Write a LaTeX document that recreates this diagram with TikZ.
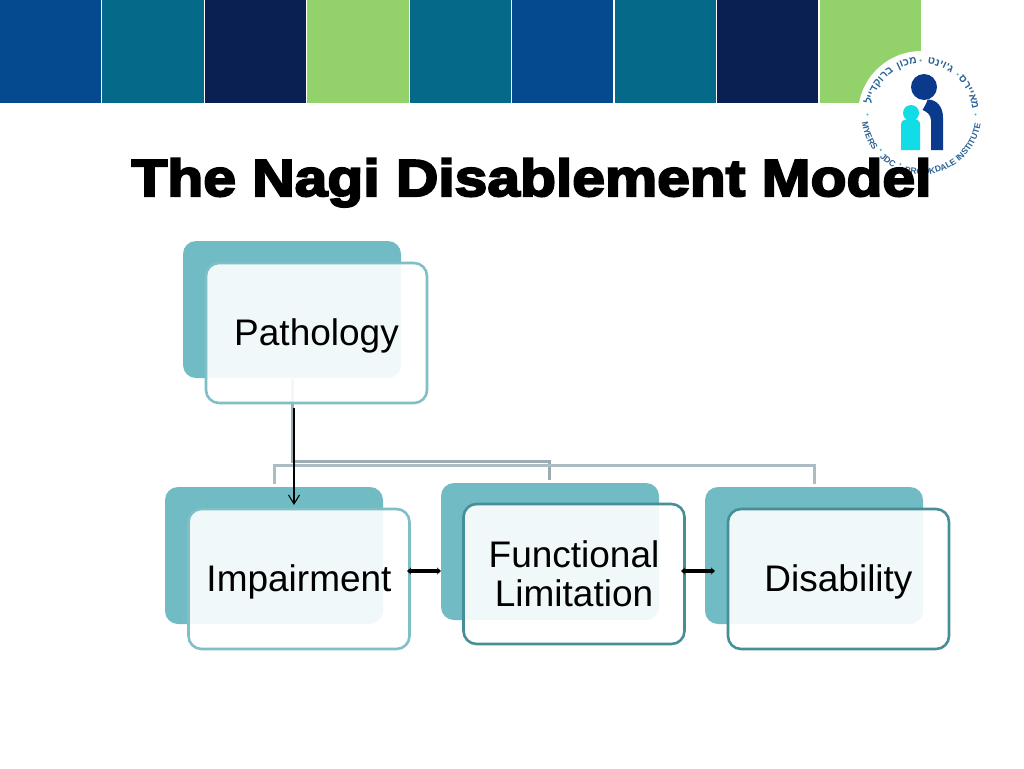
\documentclass[tikz,border=0pt]{standalone}
\usepackage{fontspec}
\setmainfont{Liberation Sans}
\newfontfamily\titlefont[FakeBold=4,FakeStretch=1.13]{Liberation Sans Bold}
\newfontfamily\hebfont[Script=Hebrew]{Liberation Sans Bold}
\usetikzlibrary{arrows.meta,decorations.text}

\definecolor{bandblue}{HTML}{054A8E}
\definecolor{bandteal}{HTML}{05698A}
\definecolor{bandnavy}{HTML}{0A2053}
\definecolor{bandgreen}{HTML}{93D26B}
\definecolor{backteal}{HTML}{70BBC4}
\definecolor{edgelight}{HTML}{7FBFC6}
\definecolor{edgedark}{HTML}{468F97}
\definecolor{treedark}{HTML}{9DABB2}
\definecolor{treelight}{HTML}{ABBCC2}
\definecolor{logonavy}{HTML}{0B3A8C}
\definecolor{logocyan}{HTML}{12DCE6}
\definecolor{logotext}{HTML}{2B6396}
\definecolor{logodot}{HTML}{4FB7C4}

\tikzset{
    backbox/.style={draw=none,fill=backteal,rounded corners=13pt,minimum width=218pt,minimum height=137pt,inner sep=0pt},
    frontbox/.style={draw=#1,line width=2.6pt,fill=white,fill opacity=0.9,text opacity=1,rounded corners=13pt,
        minimum width=221pt,minimum height=140pt,inner sep=0pt,align=center,font=\fontsize{37}{39}\selectfont},
    singleline/.style={text height=24pt,text depth=0pt},
    treeline/.style={draw=#1,line width=3pt},
    linkarrow/.style={line width=4pt,{Stealth[length=4pt,width=7pt]}-{Stealth[length=4pt,width=7pt]}}
}

% words of the logo ring
\newcommand{\hebword}[2]{\path[decorate,decoration={text along path,text align=center,
    text={|\hebfont\fontsize{10.5}{10.5}\selectfont\color{logotext}|#2}}]
    (#1+45:51pt) arc[start angle=#1+45,end angle=#1-45,radius=51pt];}
\newcommand{\engword}[2]{\path[decorate,decoration={text along path,text align=center,
    text={|\bfseries\fontsize{8.6}{8.6}\selectfont\color{logotext}|#2}}]
    (#1-60:60pt) arc[start angle=#1-60,end angle=#1+60,radius=60pt];}

\begin{document}
\begin{tikzpicture}[x=1pt,y=-1pt]
    % Background
    \useasboundingbox[fill=white] (0,0) rectangle (1024,768);

    % Bands
    \foreach \xa/\xb/\c in {0/101/bandblue,102/204/bandteal,205/306/bandnavy,307/409/bandgreen,410/511/bandteal,
        512/613/bandblue,615/716/bandteal,717/818/bandnavy,820/921/bandgreen} {
        \fill[\c] (\xa,0) rectangle (\xb,102.5);
    }

    % Logo
    \begin{scope}[shift={(921.5,114.5)},x=1pt,y=1pt]
        \fill[white] (0,0) circle(63.5);
        \hebword{146}{ליידקורב}
        \hebword{106}{ןוכמ}
        \hebword{69}{טניו'ג}
        \hebword{25}{סרייאמ}
        \engword{202}{MYERS}
        \engword{234}{JDC}
        \engword{302}{BROOKDALE INSTITUTE}
        \foreach \a in {0,48,91,180,221,247} {
            \fill[logodot] (\a:54pt) circle(1.2);
        }
        % Figures
        \fill[logonavy] (2.5,27.5) circle(13);
        \fill[logonavy] (9.5,-35.5) -- (9.5,-6) .. controls (9.5,0) and (5,3) .. (1,4.5)
            .. controls (3,8) and (5,11) .. (6,15) .. controls (15,15) and (21.5,8) .. (21.5,-3)
            -- (21.5,-35.5) -- cycle;
        \fill[logocyan] (-10.5,1.5) circle(8);
        \fill[logocyan] (-20.5,-35.5) -- (-20.5,-10) .. controls (-20.5,-6) and (-17,-4.5) .. (-10.5,-4.5)
            .. controls (-4,-4.5) and (-1.5,-6) .. (-1.5,-10) -- (-1.5,-35.5) -- cycle;
    \end{scope}

    % Title
    \node[anchor=base,inner sep=0pt] (title) at (531.5,196) {\titlefont\fontsize{52}{52}\selectfont The Nagi Disablement Model};

    % Back boxes
    \node[backbox] (pathologyback) at (292,309.5) {};
    \node[backbox] (impairmentback) at (274,555.5) {};
    \node[backbox] (functionalback) at (550,551.5) {};
    \node[backbox] (disabilityback) at (814,555.5) {};

    % Tree
    \coordinate (trunktop) at (292,379);
    \coordinate (trunkupper) at (292,461);
    \coordinate (trunklower) at (292,465);
    \coordinate (impairmentdrop) at (274,484);
    \coordinate (functionaldrop) at (549,480);
    \coordinate (disabilitydrop) at (814,484);
    \draw[treeline=treedark] (trunktop) -- (trunkupper) -| (functionaldrop);
    \draw[treeline=treelight] (trunklower) -| (impairmentdrop);
    \draw[treeline=treelight] (trunklower) -| (disabilitydrop);

    % Front boxes
    \node[frontbox=edgelight,singleline] (pathology) at (316.5,333) {Pathology};
    \node[frontbox=edgelight,singleline] (impairment) at (299,579) {Impairment};
    \node[frontbox=edgedark] (functional) at (574,574) {Functional\\Limitation};
    \node[frontbox=edgedark,singleline] (disability) at (838.5,579) {Disability};

    % Arrows
    \coordinate (downstart) at (294,408);
    \coordinate (downend) at (294,505);
    \draw[-{Straight Barb[length=9pt,width=11pt]},line width=1.1pt] (downstart) -- (downend);
    \coordinate (firststart) at (407,571);
    \coordinate (firstend) at (441,571);
    \coordinate (secondstart) at (681,571);
    \coordinate (secondend) at (715,571);
    \draw[linkarrow] (firststart) -- (firstend);
    \draw[linkarrow] (secondstart) -- (secondend);
\end{tikzpicture}
\end{document}
